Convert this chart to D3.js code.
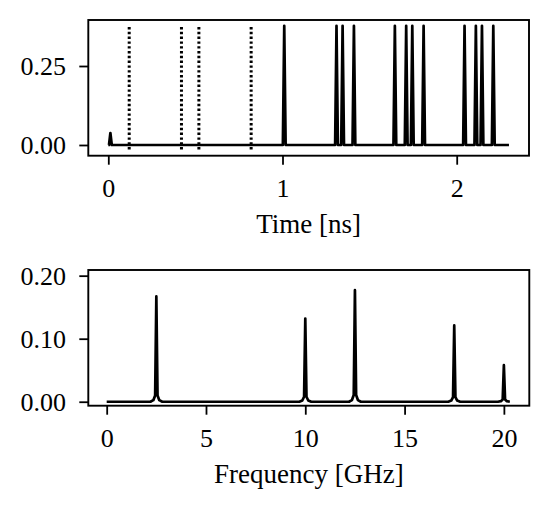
<!DOCTYPE html>
<html>
<head>
<meta charset="utf-8">
<script src="https://cdn.jsdelivr.net/npm/d3@7"></script>
<style>
  body { margin: 0; background: #fff; }
  svg { display: block; }
  .tick text { font-family: "Liberation Serif", serif; font-size: 26px; fill: #000; }
  .lbl { font-family: "Liberation Serif", serif; font-size: 27px; fill: #000; }
</style>
</head>
<body>
<div id="chart"></div>
<script>
// Datos - señal temporal
const timeRange = [0, 2.3];
const pulseTimes = [0.012, 1.01, 1.31, 1.345, 1.41, 1.645, 1.71, 1.745, 1.81, 2.045, 2.11, 2.145, 2.21];
const pulseAmps  = [0.038, 0.377, 0.377, 0.377, 0.377, 0.377, 0.377, 0.377, 0.377, 0.377, 0.377, 0.377, 0.377];
const markerTimes = [0.12, 0.42, 0.52, 0.82];
const markerSpan = [-0.014, 0.376];
const timeTicks = [0, 1, 2];
const pulseTicks = [0, 0.25];

// Datos - espectro
const freqRange = [0, 20.3];
const freqPeaks = [2.5, 10, 12.5, 17.5, 20];
const freqAmps  = [0.167, 0.132, 0.177, 0.121, 0.058];
const freqTicks = [0, 5, 10, 15, 20];
const specTicks = [0, 0.1, 0.2];

let svg = d3.select('#chart').append('svg')
    .attr('width', 550)
    .attr('height', 510);

// forma de cada pico: [desplazamiento relativo, fracción de altura]
const spikeShapeTime = [[-1, 0], [0, 1], [1, 0]];
const spikeShapeFreq = [[-1, 0], [-0.5, 0.015], [-0.2, 0.06], [0, 1], [0.2, 0.06], [0.5, 0.015], [1, 0]];

function spikePoints(range, centers, amps, shape, halfWidth) {
    let pts = [[range[0], 0]];
    centers.forEach(function(c, i) {
        shape.forEach(function(s) {
            pts.push([Math.max(range[0], c + s[0] * halfWidth), s[1] * amps[i]]);
        });
    });
    pts.push([range[1], 0]);
    return pts;
}

function drawPanel(opt) {
    let x = d3.scaleLinear().domain(opt.xDomain).range([opt.left, opt.right]);
    let y = d3.scaleLinear().domain(opt.yDomain).range([opt.bottom, opt.top]);
    let g = svg.append('g');

    // Ejes
    let xAxis = g.append('g')
        .attr('transform', 'translate(0,' + opt.bottom + ')')
        .call(d3.axisBottom(x).tickValues(opt.xTicks).tickFormat(d3.format('d')).tickSize(9).tickPadding(13.5));
    let yAxis = g.append('g')
        .attr('transform', 'translate(' + opt.left + ',0)')
        .call(d3.axisLeft(y).tickValues(opt.yTicks).tickFormat(d3.format('.2f')).tickSize(9).tickPadding(13.3));
    [xAxis, yAxis].forEach(function(a) {
        a.select('.domain').remove();
        a.selectAll('.tick line').attr('stroke', '#000').attr('stroke-width', 1.8);
        a.selectAll('.tick text').attr('font-family', null).attr('font-size', null);
    });
    yAxis.selectAll('.tick text').attr('dy', '0.33em');

    // Marcas
    if (opt.markers) {
        g.selectAll('.marker')
            .data(opt.markers)
            .enter()
            .append('line')
            .attr('x1', function(d) { return x(d); })
            .attr('x2', function(d) { return x(d); })
            .attr('y1', y(markerSpan[0]))
            .attr('y2', y(markerSpan[1]))
            .attr('stroke', '#000')
            .attr('stroke-width', 3)
            .attr('stroke-dasharray', '2.4,2.4');
    }

    let line = d3.line()
        .x(function(d) { return x(d[0]); })
        .y(function(d) { return y(d[1]); });

    g.append('path')
        .datum(opt.points)
        .attr('d', line)
        .attr('fill', 'none')
        .attr('stroke', '#000')
        .attr('stroke-width', 2.7)
        .attr('stroke-linejoin', 'round');

    // Marco
    g.append('rect')
        .attr('x', opt.left)
        .attr('y', opt.top)
        .attr('width', opt.right - opt.left)
        .attr('height', opt.bottom - opt.top)
        .attr('fill', 'none')
        .attr('stroke', '#000')
        .attr('stroke-width', 1.9);

    g.append('text')
        .attr('class', 'lbl')
        .attr('x', (opt.left + opt.right) / 2)
        .attr('y', opt.bottom + 77)
        .attr('text-anchor', 'middle')
        .text(opt.label);
}

drawPanel({
    left: 88.3, right: 529, top: 20, bottom: 155.7,
    xDomain: [-0.1148, 2.415], yDomain: [-0.0339, 0.3956],
    xTicks: timeTicks, yTicks: pulseTicks,
    points: spikePoints(timeRange, pulseTimes, pulseAmps, spikeShapeTime, 0.008),
    markers: markerTimes,
    label: 'Time [ns]'
});

drawPanel({
    left: 88.3, right: 529.3, top: 270, bottom: 405.7,
    xDomain: [-0.926, 21.28], yDomain: [-0.0063, 0.209],
    xTicks: freqTicks, yTicks: specTicks,
    points: spikePoints(freqRange, freqPeaks, freqAmps, spikeShapeFreq, 0.3),
    label: 'Frequency [GHz]'
});
</script>
</body>
</html>
